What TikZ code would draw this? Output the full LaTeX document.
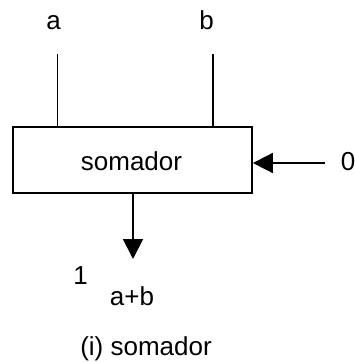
\documentclass[tikz,border=0pt]{standalone}
\usepackage{fontspec}
\setmainfont{Liberation Sans}
\usetikzlibrary{arrows.meta}

\begin{document}
\begin{tikzpicture}[x=1pt,y=-1pt,line width=1.8pt,font=\fontsize{26}{31}\selectfont,
		tip/.style={-{Triangle[length=20pt,width=20pt]}}]
				\useasboundingbox (0,0) rectangle (354,362);
				\node[draw, minimum width=239pt, minimum height=66pt, inner sep=0pt] (somador) at (132.5,160) {};
				\node[anchor=base] (somadortxt) at (131.5,170) {somador};
				\node[anchor=base] (a) at (53.5,29) {a};
				\node[anchor=base] (b) at (206.5,29) {b};
				\coordinate (ina) at (57.5,54);
				\coordinate (inb) at (213,54);
				\draw (ina) -- (ina |- somador.north);
				\draw (inb) -- (inb |- somador.north);
				\node[anchor=base] (zero) at (348,170) {0};
				\coordinate (inzero) at (325,163);
				\draw[tip] (inzero) -- (inzero -| somador.east);
				\coordinate (outsum) at (133,259);
				\draw[tip] (outsum |- somador.south) -- (outsum);
				\node[anchor=base] (um) at (80.5,284) {1};
				\node[anchor=base] (soma) at (132,305) {a+b};
				\node[anchor=base] (legenda) at (146,355) {(i) somador};
			\end{tikzpicture}
\end{document}
